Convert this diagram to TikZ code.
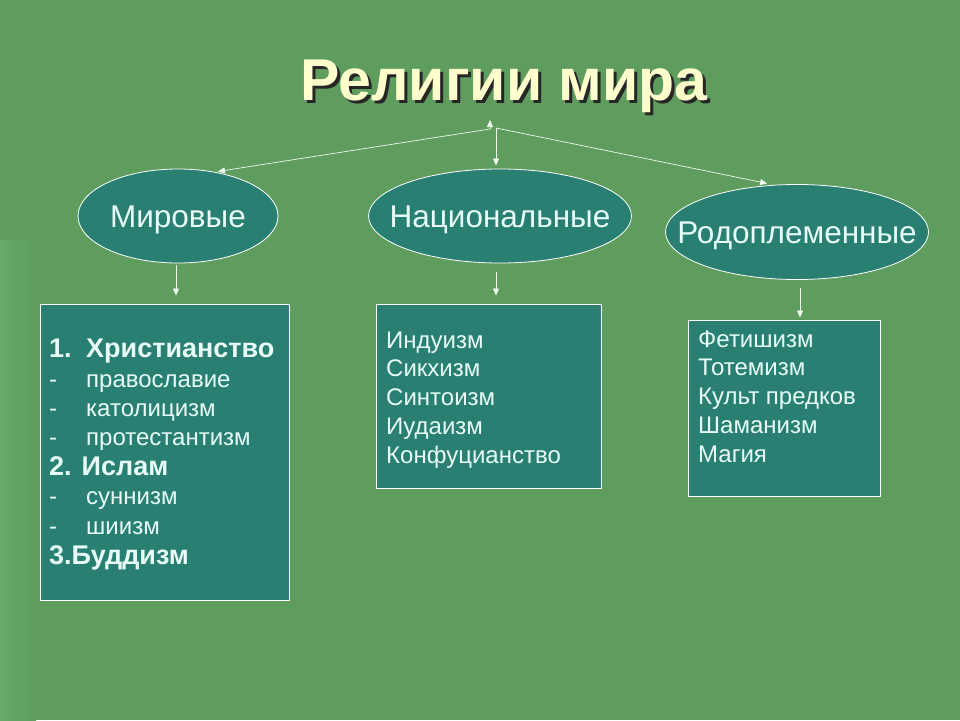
\documentclass[tikz,border=0pt]{standalone}
\usepackage{fontspec}
\setmainfont{Liberation Sans}
\usepackage{xcolor}
\usetikzlibrary{positioning,shapes.geometric,arrows.meta}
\definecolor{bggreen}{RGB}{94,157,94}
\definecolor{bglight}{RGB}{104,170,104}
\definecolor{boxteal}{RGB}{40,127,114}
\definecolor{pale}{RGB}{232,252,248}
\definecolor{cream}{RGB}{255,255,206}
\definecolor{wire}{RGB}{240,248,236}
\newcommand{\shadowed}[1]{\rlap{\hspace{3pt}\raisebox{-3pt}{\color{black!85}#1}}#1}
\newcommand{\kindtext}[1]{\makebox[0pt]{\raisebox{-11pt}[0pt][0pt]{#1}}}

\begin{document}
\begin{tikzpicture}[x=1pt,y=-1pt,
  kind/.style={ellipse,draw=white,fill=boxteal,text=pale,line width=0.8pt,inner sep=0pt,
    font=\fontsize{31.5}{36}\selectfont},
  listbox/.style={draw=white,fill=boxteal,line width=0.8pt,inner sep=0pt},
  arr/.style={draw=wire,line width=0.7pt,-{Triangle[width=6pt,length=7pt]}},
  item/.style={anchor=base west,text=pale,inner sep=0pt,font=\fontsize{24}{29}\selectfont},
  bitem/.style={item,font=\fontsize{27}{30}\selectfont\bfseries}]
% background
\fill[bggreen] (0,0) rectangle (960,720);
\shade[left color=bglight,right color=bggreen] (0,240) rectangle (36,720);

% title with shadow
\node[anchor=base,inner sep=0pt,font=\fontsize{59}{64}\selectfont\bfseries,text=cream]
  (title) at (504,100) {\shadowed{Религии мира}};

% kinds of religion
\node[kind,minimum width=200pt,minimum height=94pt] (mir) at (178,216) {\kindtext{Мировые}};
\node[kind,minimum width=263pt,minimum height=94pt] (nat) at (500,216) {\kindtext{Национальные}};
\node[kind,minimum width=263pt,minimum height=95pt] (rod) at (797,232) {\kindtext{Родоплеменные}};

% boxes
\node[listbox,minimum width=249pt,minimum height=296pt] (mirbox) at (164.5,452) {};
\node[listbox,minimum width=225pt,minimum height=184pt] (natbox) at (488.5,396) {};
\node[listbox,minimum width=192pt,minimum height=176pt] (rodbox) at (784,408) {};

% arrows from the title
\coordinate (hub) at (490,129);
\coordinate (hubr) at (496,128);
\coordinate (apex) at (490,120);
\draw[arr] (hub) -- (apex);
\draw[arr,shorten >=3pt] (hub) -- (mir.50);
\draw[arr,shorten >=3pt] (hubr) -- (hubr |- nat.north);
\draw[arr,shorten >=7pt] (hubr) -- (rod.116);

% arrows down to the boxes
\draw[arr,shorten <=2pt,shorten >=8pt] ([xshift=-2pt]mir.south) -- ([xshift=-2pt]mir.south |- mirbox.north);
\draw[arr,shorten <=9pt,shorten >=8pt] ([xshift=-4pt]nat.south) -- ([xshift=-4pt]nat.south |- natbox.north);
\draw[arr,shorten <=8pt,shorten >=2pt] ([xshift=3pt]rod.south) -- ([xshift=3pt]rod.south |- rodbox.north);

% world religions
\node[bitem] (m1) at (49,357) {\makebox[37pt][l]{1.}Христианство};
\node[item] (m2) at (49,387) {\makebox[37pt][l]{-}православие};
\node[item] (m3) at (49,416) {\makebox[37pt][l]{-}католицизм};
\node[item] (m4) at (49,445) {\makebox[37pt][l]{-}протестантизм};
\node[bitem] (m5) at (49,475) {2. Ислам};
\node[item] (m6) at (49,504) {\makebox[37pt][l]{-}суннизм};
\node[item] (m7) at (49,534) {\makebox[37pt][l]{-}шиизм};
\node[bitem] (m8) at (49,564) {3.Буддизм};

% national religions
\foreach \t [count=\i] in {Индуизм,Сикхизм,Синтоизм,Иудаизм,Конфуцианство}
  \node[item] (n\i) at (386,348+28.8*\i-28.8) {\t};

% tribal religions
\foreach \t [count=\i] in {Фетишизм,Тотемизм,Культ предков,Шаманизм,Магия}
  \node[item] (r\i) at (698,347+28.8*\i-28.8) {\t};
\end{tikzpicture}
\end{document}
